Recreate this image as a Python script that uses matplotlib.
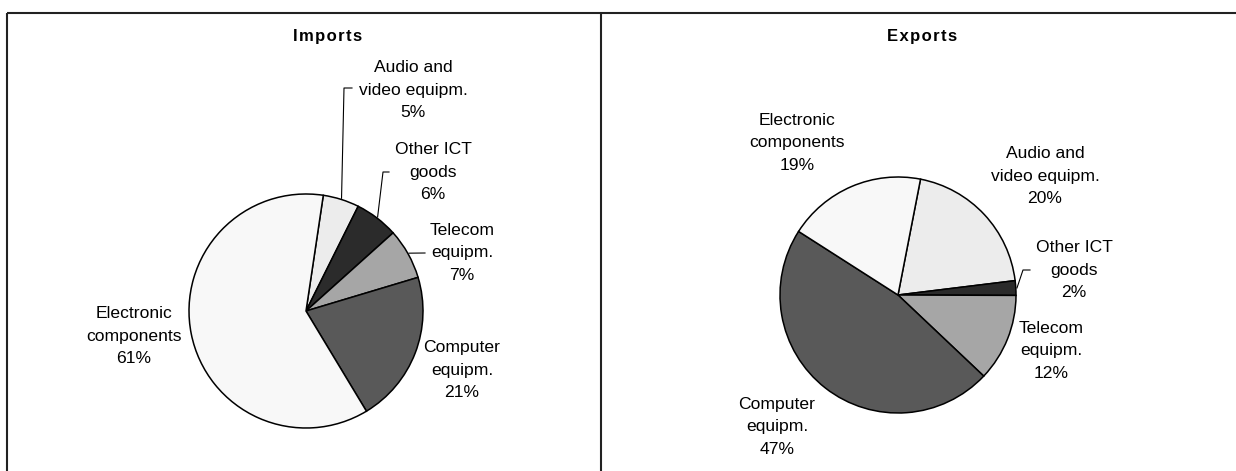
import matplotlib
matplotlib.use("Agg")
import matplotlib.pyplot as plt
import numpy as np

W, H = 1236, 471

# ICT goods trade, share by product group (%)
imp_names = ["Audio and\nvideo equipm.", "Other ICT\ngoods", "Telecom\nequipm.",
             "Computer\nequipm.", "Electronic\ncomponents"]
imp_vals = [5, 6, 7, 21, 61]

exp_names = ["Audio and\nvideo equipm.", "Other ICT\ngoods", "Telecom\nequipm.",
             "Computer\nequipm.", "Electronic\ncomponents"]
exp_vals = [20, 2, 12, 47, 19]

grays = ["#ececec", "#2b2b2b", "#a6a6a6", "#595959", "#f8f8f8"]

plt.rcParams["font.family"] = ["Liberation Sans", "DejaVu Sans"]

fig = plt.figure(figsize=(W / 100, H / 100), dpi=100)
ax = fig.add_axes([0, 0, 1, 1])


def py(y):
    return H - y


def draw_pie(vals, names, center, radius, start, title, title_x, label_xy, leaders):
    wedges, _ = ax.pie(vals, colors=grays, startangle=90 - start, counterclock=False,
                       center=(center[0], py(center[1])), radius=radius,
                       wedgeprops=dict(edgecolor="black", linewidth=1.1))
    ax.text(title_x, py(37), "\u200a".join(title), ha="center", va="center",
            fontsize=12, fontweight="bold")
    for i, (name, v) in enumerate(zip(names, vals)):
        x, y = label_xy[i]
        ax.text(x, py(y), f"{name}\n{v}%", ha="center", va="center",
                fontsize=12.6, linespacing=1.6, multialignment="center")
        if leaders[i]:
            w = wedges[i]
            mid = np.deg2rad((w.theta1 + w.theta2) / 2)
            ex = center[0] + radius * 1.01 * np.cos(mid)
            ey = py(center[1]) + radius * 1.01 * np.sin(mid)
            xs = [p[0] for p in leaders[i]] + [ex]
            ys = [py(p[1]) for p in leaders[i]] + [ey]
            ax.plot(xs, ys, color="black", lw=0.8)


draw_pie(imp_vals, imp_names, (306, 311), 117, 8.5, "Imports", 328,
         [(413, 90), (433, 172), (462, 253), (462, 370), (134, 336)],
         [[(352, 88), (344, 88)], [(389, 172), (383, 172)], [(425, 253)], None, None])

draw_pie(exp_vals, exp_names, (898, 295), 118, 11, "Exports", 922,
         [(1045, 176), (1074, 270), (1051, 351), (777, 427), (797, 143)],
         [None, [(1030, 270), (1023, 270)], None, None, None])

# panel frames
frame = dict(color="#222222", lw=1.5, solid_capstyle="butt")
ax.plot([7, 7], [py(H), py(13)], **frame)
ax.plot([7, W], [py(13), py(13)], **frame)
ax.plot([601, 601], [py(H), py(13)], **frame)

ax.set_xlim(0, W)
ax.set_ylim(0, H)
ax.set_aspect("auto")
ax.set_position([0, 0, 1, 1])
ax.axis("off")

fig.savefig("out.png", dpi=100, facecolor="white")
